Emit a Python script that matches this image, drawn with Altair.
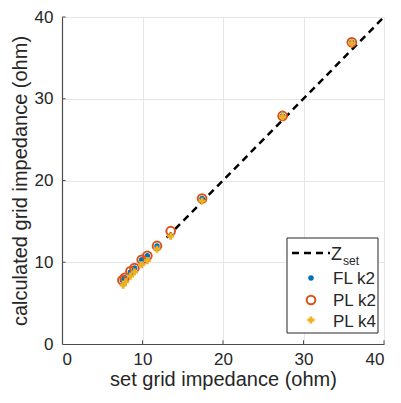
import altair as alt
import pandas as pd

# ---- data ----
fl_k2_set = [7.5, 7.8, 8.5, 9.0, 9.9, 10.6, 11.8, 17.4, 27.4, 36.0]
fl_k2_calc = [7.8, 8.1, 8.8, 9.3, 10.3, 10.8, 12.0, 17.8, 27.9, 36.9]

pl_k2_set = [7.5, 7.8, 8.5, 9.0, 9.9, 10.6, 11.8, 13.5, 17.4, 27.4, 36.0]
pl_k2_calc = [7.8, 8.1, 8.9, 9.3, 10.3, 10.8, 12.0, 13.8, 17.8, 27.9, 36.9]

pl_k4_set = [7.6, 7.9, 8.5, 9.0, 9.9, 10.6, 11.8, 13.5, 17.4, 27.4, 36.0]
pl_k4_calc = [7.2, 7.6, 8.3, 8.8, 9.7, 10.2, 11.6, 13.2, 17.5, 27.8, 36.8]

zset_line = [13, 40]

ticks = [0, 10, 20, 30, 40]
inner_ticks = [10, 20, 30, 40]
tick_len = 0.45  # data units

BLUE = "#0072BD"
ORANGE = "#D95319"
YELLOW = "#EDB120"
FONT = "Liberation Sans"
TXT = "#262626"
AX = "#4d4d4d"

W, H = 322, 327

df_fl = pd.DataFrame({"x": fl_k2_set, "y": fl_k2_calc})
df_pl2 = pd.DataFrame({"x": pl_k2_set, "y": pl_k2_calc})
df_pl4 = pd.DataFrame({"x": pl_k4_set, "y": pl_k4_calc})
df_line = pd.DataFrame({"x": zset_line, "y": zset_line})
df_xt = pd.DataFrame({"x": inner_ticks, "y": [0] * 4, "y2": [tick_len] * 4})
df_yt = pd.DataFrame({"y": inner_ticks, "x": [0] * 4, "x2": [tick_len] * 4})

xscale = alt.Scale(domain=[0, 40], nice=False)
yscale = alt.Scale(domain=[0, 40], nice=False)

xaxis = alt.Axis(values=ticks, title="set grid impedance (ohm)", grid=True,
                 gridColor="#e6e6e6", domainColor=AX, ticks=False,
                 labelPadding=7, titlePadding=2)
yaxis = alt.Axis(values=ticks, title="calculated grid impedance (ohm)", grid=True,
                 gridColor="#e6e6e6", domainColor=AX, ticks=False,
                 labelPadding=9, titlePadding=4)

base_x = alt.X("x:Q", scale=xscale, axis=xaxis)
base_y = alt.Y("y:Q", scale=yscale, axis=yaxis)

line = alt.Chart(df_line).mark_line(color="black", strokeWidth=2.5,
                                    strokeDash=[7, 5]).encode(x=base_x, y=base_y)

xt = alt.Chart(df_xt).mark_rule(color=AX, strokeWidth=1).encode(
    x=alt.X("x:Q", scale=xscale), y=alt.Y("y:Q", scale=yscale), y2="y2:Q")
yt = alt.Chart(df_yt).mark_rule(color=AX, strokeWidth=1).encode(
    y=alt.Y("y:Q", scale=yscale), x=alt.X("x:Q", scale=xscale), x2="x2:Q")

fl = alt.Chart(df_fl).mark_point(shape="circle", filled=True, color=BLUE,
                                 size=30, opacity=1).encode(x=base_x, y=base_y)
pl2 = alt.Chart(df_pl2).mark_point(shape="circle", filled=False, color=ORANGE,
                                   size=75, strokeWidth=2, opacity=1).encode(x=base_x, y=base_y)
pl4 = alt.Chart(df_pl4).mark_point(shape="cross", filled=True, color=YELLOW,
                                   size=50, opacity=1).encode(x=base_x, y=base_y)

# ---- manual legend (inside plot area, pixel positions) ----
one = pd.DataFrame({"a": [0]})
lx0, lx1, ly0, ly1 = 225, 316, 221, 316
leg_box = alt.Chart(one).mark_rect(fill="white", stroke="#262626", strokeWidth=1).encode(
    x=alt.value(lx0), x2=alt.value(lx1), y=alt.value(ly0), y2=alt.value(ly1))
leg_line = alt.Chart(one).mark_rule(color="black", strokeWidth=2.5, strokeDash=[7, 5]).encode(
    x=alt.value(230), x2=alt.value(268), y=alt.value(236))
leg_z = alt.Chart(one).mark_text(text="Z", font=FONT, fontSize=18, color=TXT,
                                 align="left", baseline="middle").encode(
    x=alt.value(269), y=alt.value(238))
leg_sub = alt.Chart(one).mark_text(text="set", font=FONT, fontSize=12, color=TXT,
                                   align="left", baseline="middle").encode(
    x=alt.value(281), y=alt.value(244))
leg_fl = alt.Chart(one).mark_point(shape="circle", filled=True, color=BLUE, size=30,
                                   opacity=1).encode(x=alt.value(249), y=alt.value(261))
leg_pl2 = alt.Chart(one).mark_point(shape="circle", filled=False, color=ORANGE, size=75,
                                    strokeWidth=2, opacity=1).encode(x=alt.value(249), y=alt.value(283))
leg_pl4 = alt.Chart(one).mark_point(shape="cross", filled=True, color=YELLOW, size=50,
                                    opacity=1).encode(x=alt.value(249), y=alt.value(303))
leg_t1 = alt.Chart(one).mark_text(text="FL k2", font=FONT, fontSize=17, color=TXT,
                                  align="left", baseline="middle").encode(x=alt.value(271), y=alt.value(262))
leg_t2 = alt.Chart(one).mark_text(text="PL k2", font=FONT, fontSize=17, color=TXT,
                                  align="left", baseline="middle").encode(x=alt.value(271), y=alt.value(284))
leg_t3 = alt.Chart(one).mark_text(text="PL k4", font=FONT, fontSize=17, color=TXT,
                                  align="left", baseline="middle").encode(x=alt.value(271), y=alt.value(305))

chart = alt.layer(
    line, xt, yt, fl, pl2, pl4,
    leg_box, leg_line, leg_z, leg_sub, leg_fl, leg_pl2, leg_pl4, leg_t1, leg_t2, leg_t3,
).properties(
    width=W, height=H,
    autosize=alt.AutoSizeParams(type="none"),
    padding={"left": 54, "top": 9, "right": 9, "bottom": 49},
).configure_view(
    stroke="#c8c8c8", strokeWidth=1
).configure_axis(
    labelFont=FONT, titleFont=FONT, labelFontSize=17, titleFontSize=20,
    labelColor=TXT, titleColor=TXT, titleFontWeight="normal", domainWidth=1.2
)

chart.save("out.html", embed_options={"renderer": "svg", "actions": False})
